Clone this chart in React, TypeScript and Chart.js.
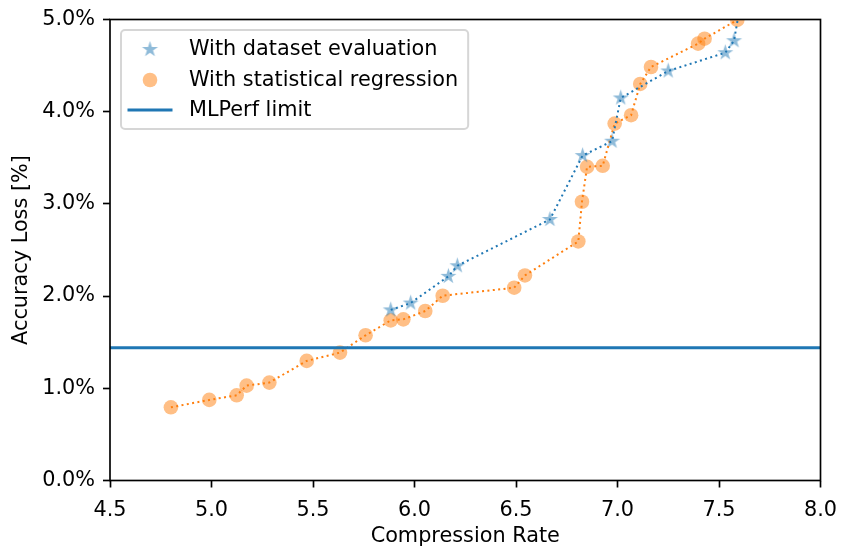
import React, { useEffect, useRef } from "react";
import { Chart, registerables } from "chart.js";

Chart.register(...registerables);

// ---- data ----
const blueX = [5.883, 5.981, 6.167, 6.211, 6.667, 6.828, 6.973, 7.016, 7.25, 7.531, 7.574, 7.6];
const blueY = [1.85, 1.925, 2.214, 2.329, 2.831, 3.524, 3.68, 4.149, 4.442, 4.64, 4.77, 5.1];

const orangeX = [4.8, 4.989, 5.124, 5.173, 5.285, 5.469, 5.633, 5.759, 5.883, 5.945, 6.053, 6.139, 6.491, 6.544, 6.807, 6.825, 6.85, 6.927, 6.986, 7.067, 7.112, 7.165, 7.397, 7.429, 7.59];
const orangeY = [0.794, 0.874, 0.924, 1.029, 1.062, 1.297, 1.387, 1.575, 1.737, 1.748, 1.838, 2.004, 2.091, 2.224, 2.593, 3.023, 3.402, 3.413, 3.871, 3.962, 4.301, 4.485, 4.738, 4.792, 4.995];

const mlperfLimit = 1.439;
const xRange = [4.5, 8.0];
const yRange = [0, 5];
const xTicks = [4.5, 5.0, 5.5, 6.0, 6.5, 7.0, 7.5, 8.0];
const yTicks = [0, 1, 2, 3, 4, 5];
const legendLabels = ["With dataset evaluation", "With statistical regression", "MLPerf limit"];
const xTitle = "Compression Rate";
const yTitle = "Accuracy Loss [%]";

// ---- styles ----
const BLUE = "#1f77b4";
const ORANGE = "#ff7f0e";
const BLUE_A = "rgba(31,119,180,0.5)";
const ORANGE_A = "rgba(255,127,14,0.5)";
const FONT_FAMILY = "'DejaVu Sans', sans-serif";
const FONT_SIZE = 20.8;

function makeStar(R: number, color: string): HTMLCanvasElement {
  const size = Math.ceil(R * 2) + 4;
  const c = document.createElement("canvas");
  c.width = size;
  c.height = size;
  const ctx = c.getContext("2d")!;
  const cx = size / 2;
  const cy = size / 2;
  const r = R * 0.381966;
  ctx.beginPath();
  for (let i = 0; i < 10; i++) {
    const ang = -Math.PI / 2 + (i * Math.PI) / 5;
    const rad = i % 2 === 0 ? R : r;
    const px = cx + rad * Math.cos(ang);
    const py = cy + rad * Math.sin(ang);
    if (i === 0) ctx.moveTo(px, py);
    else ctx.lineTo(px, py);
  }
  ctx.closePath();
  ctx.fillStyle = color;
  ctx.fill();
  return c;
}

const toPts = (xs: number[], ys: number[]) => xs.map((x, i) => ({ x, y: ys[i] }));

export default function App() {
  const ref = useRef<HTMLCanvasElement | null>(null);

  useEffect(() => {
    if (!ref.current) return;
    const star = makeStar(8.4, BLUE_A);
    const font = { family: FONT_FAMILY, size: FONT_SIZE };

    const framePlugin = {
      id: "frameAndLegend",
      afterDraw(chart: any) {
        const { ctx, chartArea } = chart;
        ctx.save();
        ctx.strokeStyle = "#000";
        ctx.lineWidth = 1.67;
        ctx.strokeRect(chartArea.left, chartArea.top, chartArea.right - chartArea.left, chartArea.bottom - chartArea.top);

        // legend
        ctx.font = `${FONT_SIZE}px ${FONT_FAMILY}`;
        const bx = chartArea.left + 11;
        const by = chartArea.top + 10.5;
        const textX = chartArea.left + 79;
        const rowY = [by + 19.5, by + 50, by + 80];
        const maxW = Math.max(...legendLabels.map((t) => ctx.measureText(t).width));
        const bw = textX + maxW + 10 - bx;
        const bh = 99;
        const rr = 4;
        ctx.beginPath();
        ctx.moveTo(bx + rr, by);
        ctx.lineTo(bx + bw - rr, by);
        ctx.arcTo(bx + bw, by, bx + bw, by + rr, rr);
        ctx.lineTo(bx + bw, by + bh - rr);
        ctx.arcTo(bx + bw, by + bh, bx + bw - rr, by + bh, rr);
        ctx.lineTo(bx + rr, by + bh);
        ctx.arcTo(bx, by + bh, bx, by + bh - rr, rr);
        ctx.lineTo(bx, by + rr);
        ctx.arcTo(bx, by, bx + rr, by, rr);
        ctx.closePath();
        ctx.fillStyle = "rgba(255,255,255,0.8)";
        ctx.fill();
        ctx.strokeStyle = "rgba(204,204,204,0.8)";
        ctx.lineWidth = 2;
        ctx.stroke();

        const mx = chartArea.left + 40;
        ctx.drawImage(star, mx - star.width / 2, rowY[0] - star.height / 2);
        ctx.beginPath();
        ctx.arc(mx, rowY[1], 7.3, 0, Math.PI * 2);
        ctx.fillStyle = ORANGE_A;
        ctx.fill();
        ctx.beginPath();
        ctx.moveTo(mx - 22.5, rowY[2]);
        ctx.lineTo(mx + 22.5, rowY[2]);
        ctx.strokeStyle = BLUE;
        ctx.lineWidth = 3;
        ctx.stroke();

        ctx.fillStyle = "#000";
        ctx.textAlign = "left";
        ctx.textBaseline = "alphabetic";
        legendLabels.forEach((t, i) => ctx.fillText(t, textX, rowY[i] + 5.8));
        ctx.restore();
      },
    };

    const chart = new Chart(ref.current, {
      type: "scatter",
      data: {
        datasets: [
          {
            label: legendLabels[2],
            data: [
              { x: xRange[0], y: mlperfLimit },
              { x: xRange[1], y: mlperfLimit },
            ],
            showLine: true,
            borderColor: BLUE,
            borderWidth: 3,
            pointRadius: 0,
            order: 0,
          },
          {
            label: "blue-line",
            data: toPts(blueX, blueY),
            showLine: true,
            borderColor: BLUE,
            borderWidth: 2,
            borderDash: [2, 3.4],
            borderCapStyle: "butt",
            pointRadius: 0,
            clip: 0,
            order: 1,
          },
          {
            label: "orange-line",
            data: toPts(orangeX, orangeY),
            showLine: true,
            borderColor: ORANGE,
            borderWidth: 2,
            borderDash: [2, 3.4],
            borderCapStyle: "butt",
            pointRadius: 0,
            clip: 0,
            order: 1,
          },
          {
            label: legendLabels[0],
            data: toPts(blueX, blueY),
            showLine: false,
            pointStyle: star,
            pointRadius: 8.4,
            clip: 0,
            order: 2,
          },
          {
            label: legendLabels[1],
            data: toPts(orangeX, orangeY),
            showLine: false,
            pointStyle: "circle",
            pointRadius: 7.3,
            backgroundColor: ORANGE_A,
            borderWidth: 0,
            clip: 0,
            order: 3,
          },
        ],
      } as any,
      options: {
        animation: false,
        responsive: false,
        events: [],
        layout: { padding: { top: 19.5, right: 20.5, left: 0, bottom: 0 } },
        plugins: { legend: { display: false }, tooltip: { enabled: false } },
        scales: {
          x: {
            type: "linear",
            min: xRange[0],
            max: xRange[1],
            afterBuildTicks: (s: any) => {
              s.ticks = xTicks.map((v) => ({ value: v }));
            },
            afterFit: (s: any) => {
              s.height = 69.5;
              s.paddingLeft = 0;
              s.paddingRight = 0;
            },
            ticks: {
              font,
              color: "#000",
              padding: 11,
              maxRotation: 0,
              autoSkip: false,
              callback: (v: any) => Number(v).toFixed(1),
            },
            grid: { drawOnChartArea: false, drawTicks: true, tickLength: 7, tickWidth: 1.67, tickColor: "#000" },
            border: { display: false },
            title: { display: true, text: xTitle, font, color: "#000", padding: { top: 0, bottom: 1 } },
          },
          y: {
            type: "linear",
            min: yRange[0],
            max: yRange[1],
            afterBuildTicks: (s: any) => {
              s.ticks = yTicks.map((v) => ({ value: v }));
            },
            afterFit: (s: any) => {
              s.width = 110;
              s.paddingTop = 0;
              s.paddingBottom = 0;
            },
            ticks: {
              font,
              color: "#000",
              padding: 8,
              autoSkip: false,
              callback: (v: any) => Number(v).toFixed(1) + "%",
            },
            grid: { drawOnChartArea: false, drawTicks: true, tickLength: 7, tickWidth: 1.67, tickColor: "#000" },
            border: { display: false },
            title: { display: true, text: yTitle, font, color: "#000", padding: { top: 9, bottom: 0 } },
          },
        },
      } as any,
      plugins: [framePlugin],
    });
    return () => chart.destroy();
  }, []);

  return (
    <div style={{ position: "absolute", left: 0, top: 0, width: 841, height: 550, background: "#fff" }}>
      <canvas ref={ref} width={841} height={550} />
    </div>
  );
}
